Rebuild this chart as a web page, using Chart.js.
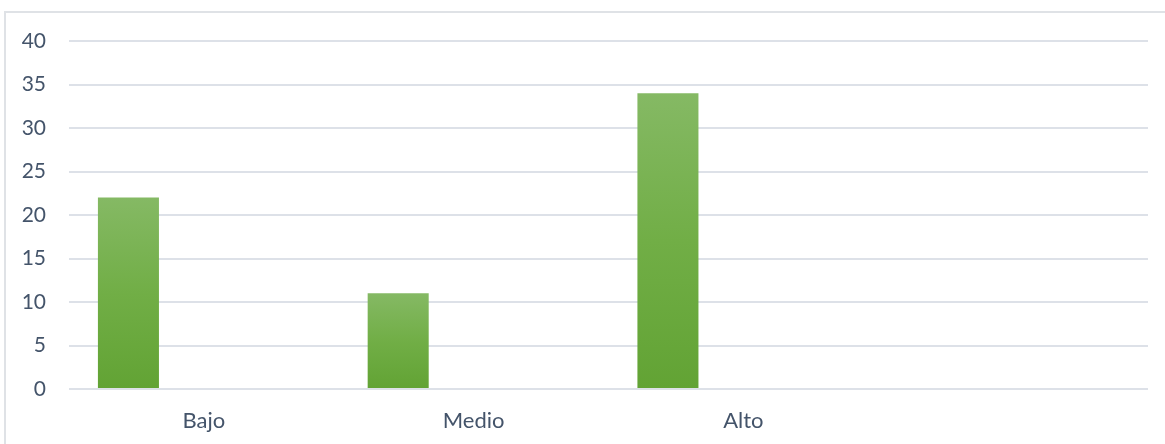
<!DOCTYPE html>
<html>
<head>
<meta charset="utf-8">
<script src="https://cdn.jsdelivr.net/npm/chart.js@4/dist/chart.umd.min.js"></script>
<style>
  html, body { margin: 0; padding: 0; background: #fff; }
  #wrap { position: relative; width: 1165px; height: 444px; overflow: hidden; }
  #frame {
    position: absolute; left: 4px; top: 11px; width: 2000px; height: 2000px;
    border-left: 2px solid #dfe2e6; border-top: 2px solid #dfe2e6;
    pointer-events: none;
  }
</style>
</head>
<body>
<div id="wrap">
  <canvas id="chart" width="1165" height="444"></canvas>
  <div id="frame"></div>
</div>
<script>
// Categories and values (Excel chart had extra empty series / category)
const categories = ["Bajo", "Medio", "Alto", ""];
const nivelValues = [22, 11, 34, null];
const emptySeriesA = [null, null, null, null];
const emptySeriesB = [null, null, null, null];
const yTicks = [0, 5, 10, 15, 20, 25, 30, 35, 40];

const textColor = "#44546a";
const gridColor = "#dde1e8";

// per-bar vertical gradient, like Excel's "linear down" fill
function barGradient(context) {
  const chart = context.chart;
  const yScale = chart.scales.y;
  if (!chart.chartArea || !yScale || context.raw == null) return "#70ad47";
  const top = yScale.getPixelForValue(context.raw);
  const bottom = yScale.getPixelForValue(0);
  const g = chart.ctx.createLinearGradient(0, top, 0, bottom);
  g.addColorStop(0, "#85b964");
  g.addColorStop(0.5, "#71ae46");
  g.addColorStop(1, "#62a334");
  return g;
}

const ctx = document.getElementById("chart").getContext("2d");
const chart = new Chart(ctx, {
  type: "bar",
  data: {
    labels: categories,
    datasets: [
      { label: "Nivel", data: nivelValues, backgroundColor: barGradient },
      { label: "", data: emptySeriesA, backgroundColor: "#70ad47" },
      { label: "", data: emptySeriesB, backgroundColor: "#70ad47" },
    ],
  },
  options: {
    responsive: false,
    animation: false,
    categoryPercentage: 0.839,
    barPercentage: 0.809,
    layout: {
      padding: { top: 41, right: 17, left: 0, bottom: 0 },
    },
    plugins: {
      legend: { display: false },
      tooltip: { enabled: false },
    },
    scales: {
      x: {
        grid: { display: false, drawTicks: false },
        border: { display: false },
        ticks: {
          color: textColor,
          font: { family: "Lato", size: 22 },
          padding: 19,
          maxRotation: 0,
          autoSkip: false,
        },
        afterFit: (scale) => { scale.height = 55; },
      },
      y: {
        min: 0,
        max: 40,
        afterBuildTicks: (scale) => {
          scale.ticks = yTicks.map((v) => ({ value: v }));
        },
        grid: { color: gridColor, lineWidth: 2, drawTicks: false },
        border: { display: false },
        ticks: {
          color: textColor,
          font: { family: "Lato", size: 21 },
          padding: 23,
        },
        afterFit: (scale) => { scale.width = 69; },
      },
    },
  },
});
</script>
</body>
</html>
